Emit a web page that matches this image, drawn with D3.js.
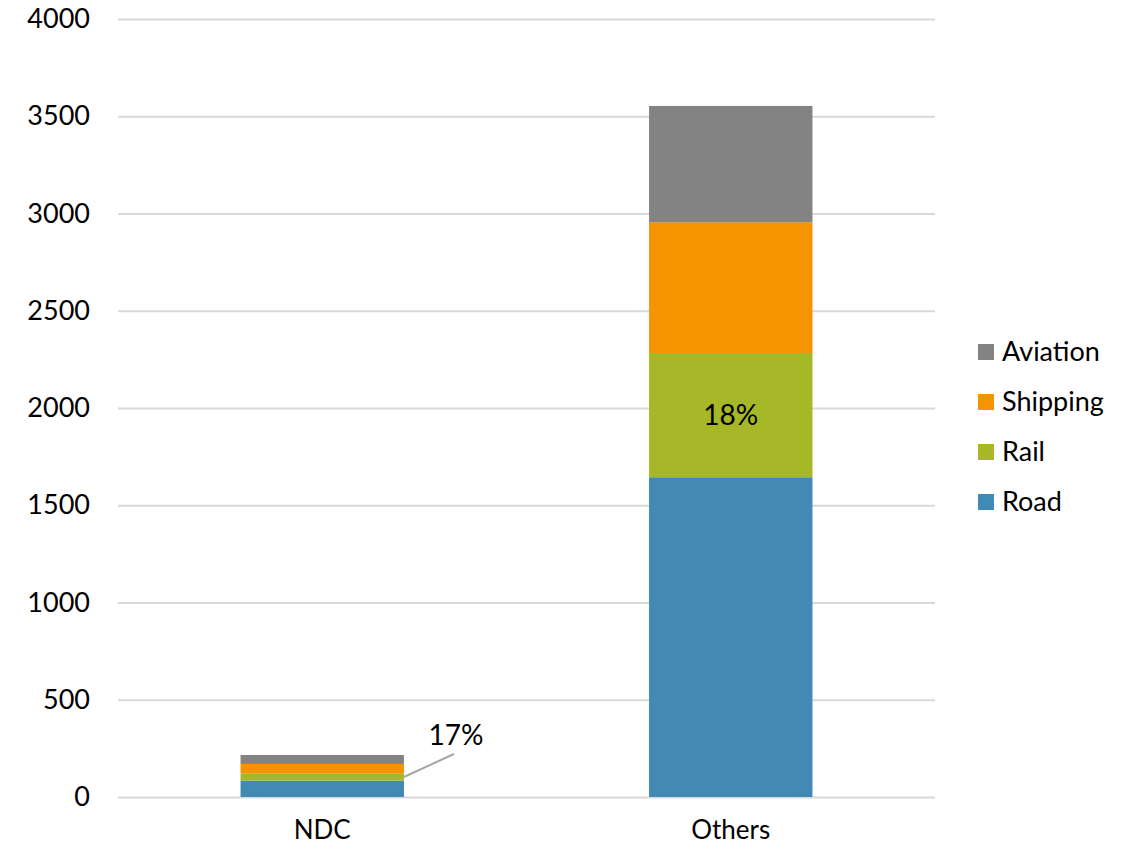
<!DOCTYPE html>
<html>
<head>
<meta charset="utf-8">
<script src="https://cdn.jsdelivr.net/npm/d3@7"></script>
<style>
  body { margin: 0; background: #fff; }
  text { font-family: Lato, "Open Sans", sans-serif; fill: #000; }
  .grid line { stroke: #d9d9d9; stroke-width: 2; }
</style>
</head>
<body>
<div id="chart"></div>
<script>
// data
var categories = ["NDC", "Others"];
var modes = ["Road", "Rail", "Shipping", "Aviation"];
var road = [84, 1644];
var rail = [38, 639];
var shipping = [48, 672];
var aviation = [46, 598];
var railShare = ["17%", "18%"];
var yTicks = [0, 500, 1000, 1500, 2000, 2500, 3000, 3500, 4000];

var colors = {"Road": "#4289b4", "Rail": "#a6b728", "Shipping": "#f59300", "Aviation": "#838383"};

var W = 1135, H = 849;
var margin = {top: 19, right: 200, bottom: 52, left: 118},
    width = W - margin.left - margin.right,
    height = H - margin.top - margin.bottom;

var svg = d3.select("#chart").append("svg")
    .attr("width", W)
    .attr("height", H)
  .append("g")
    .attr("transform", "translate(" + margin.left + "," + margin.top + ")");

// build rows for the stack
var rows = categories.map(function(c, i) {
    return {cat: c, Road: road[i], Rail: rail[i], Shipping: shipping[i], Aviation: aviation[i]};
});
var series = d3.stack().keys(modes)(rows);

var x = d3.scaleBand()
    .domain(categories)
    .range([0, width])
    .paddingInner(0.6)
    .paddingOuter(0.3);

var y = d3.scaleLinear()
    .domain([0, 4000])
    .range([height, 0]);

// gridlines
svg.append("g")
    .attr("class", "grid")
    .call(d3.axisLeft(y).tickValues(yTicks).tickSize(-width).tickFormat(""))
    .call(function(g) { g.select(".domain").remove(); });

// y labels
svg.append("g")
    .call(d3.axisLeft(y).tickValues(yTicks).tickSize(0).tickPadding(28).tickFormat(d3.format("d")))
    .call(function(g) { g.select(".domain").remove(); })
    .selectAll("text")
    .style("font-size", "27px")
    .style("font-family", "Lato, sans-serif")
    .attr("fill", "#000");

// x labels
svg.append("g")
    .attr("transform", "translate(0," + height + ")")
    .call(d3.axisBottom(x).tickSize(0).tickPadding(24))
    .call(function(g) { g.select(".domain").remove(); })
    .selectAll("text")
    .style("font-size", "26px")
    .style("font-family", "Lato, sans-serif")
    .attr("fill", "#000");

// bars
svg.append("g").selectAll("g")
    .data(series)
    .enter().append("g")
    .attr("fill", function(d) { return colors[d.key]; })
  .selectAll("rect")
    .data(function(d) { return d; })
    .enter().append("rect")
    .attr("x", function(d) { return x(d.data.cat); })
    .attr("y", function(d) { return y(d[1]); })
    .attr("height", function(d) { return y(d[0]) - y(d[1]); })
    .attr("width", x.bandwidth());

// rail share labels
var railSeries = series[1];
// NDC: label outside with a leader line
var nd = railSeries[0];
var lx0 = x(categories[0]) + x.bandwidth(),
    ly0 = (y(nd[0]) + y(nd[1])) / 2;
svg.append("line")
    .attr("x1", lx0).attr("y1", ly0)
    .attr("x2", lx0 + 50).attr("y2", ly0 - 23)
    .attr("stroke", "#a6a6a6")
    .attr("stroke-width", 2);
svg.append("text")
    .attr("x", lx0 + 52)
    .attr("y", ly0 - 32)
    .attr("text-anchor", "middle")
    .style("font-size", "28px")
    .text(railShare[0]);

// Others: label inside the rail segment
var ot = railSeries[1];
svg.append("text")
    .attr("x", x(categories[1]) + x.bandwidth() / 2)
    .attr("y", (y(ot[0]) + y(ot[1])) / 2)
    .attr("dy", "0.35em")
    .attr("text-anchor", "middle")
    .style("font-size", "28px")
    .text(railShare[1]);

// legend
var legend = svg.append("g")
    .attr("transform", "translate(" + (width + 43) + "," + (352 - margin.top) + ")");
var items = legend.selectAll("g")
    .data(modes.slice().reverse())
    .enter().append("g")
    .attr("transform", function(d, i) { return "translate(0," + (i * 50) + ")"; });
items.append("rect")
    .attr("x", 0).attr("y", -8)
    .attr("width", 16).attr("height", 16)
    .attr("fill", function(d) { return colors[d]; });
items.append("text")
    .attr("x", 24)
    .attr("dy", "0.35em")
    .style("font-size", "27px")
    .text(function(d) { return d; });
</script>
</body>
</html>
